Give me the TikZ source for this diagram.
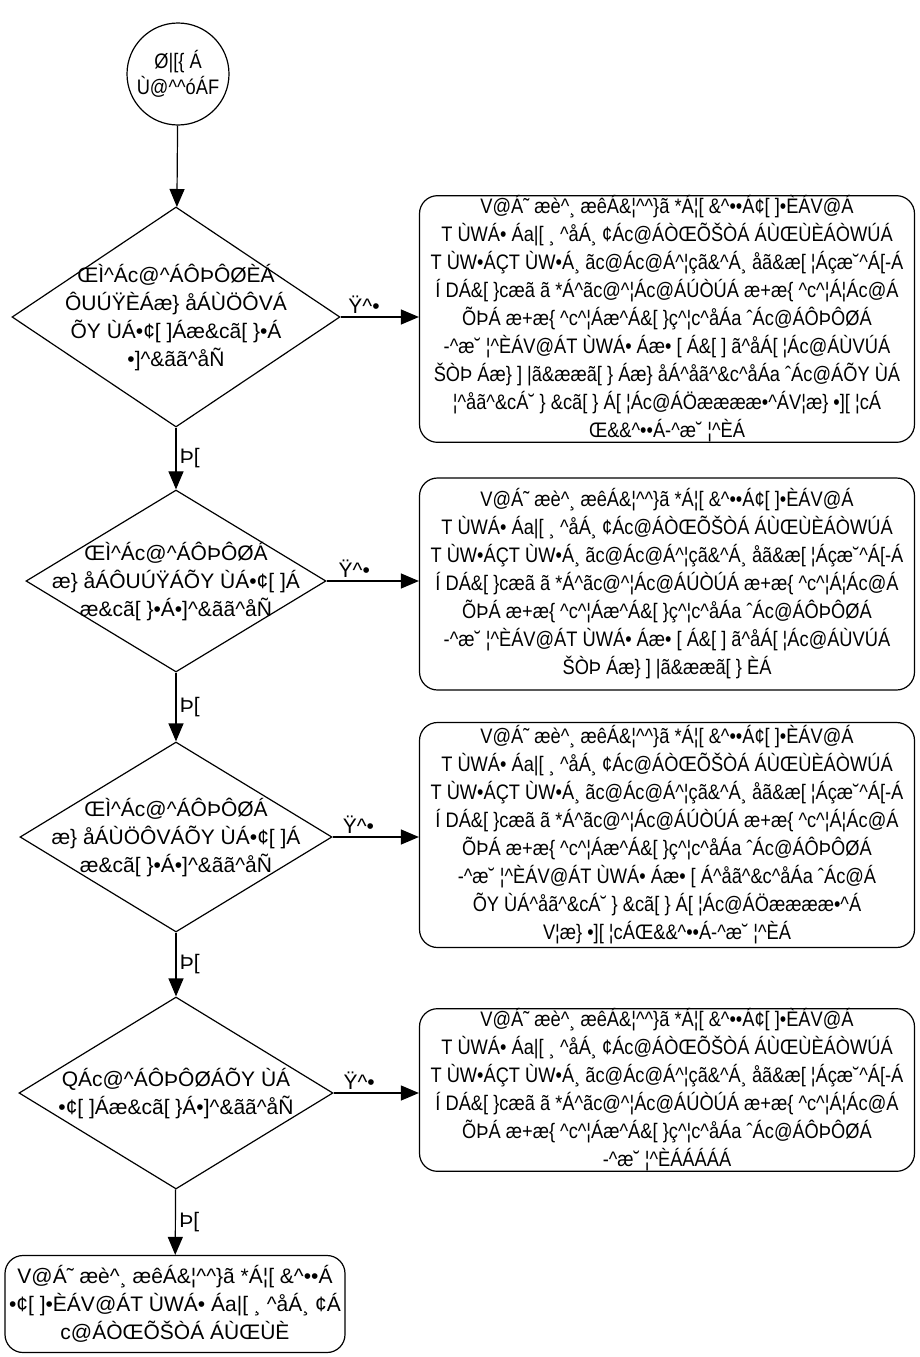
\documentclass[tikz,border=0pt]{standalone}
\usepackage{fontspec}
\setmainfont{Liberation Sans}
\newfontfamily\boxfont{Liberation Sans}[FakeStretch=0.87]
\usetikzlibrary{shapes.geometric,arrows.meta}

\newcommand{\crt}{\textasciicircum}
% first lines shared by the four boxes on the right
\newcommand{\boxlines}{V@Á˜ æè\crt{}¸ æêÁ\&¦\crt{}\crt{}\}ã *Á¦[ \&\crt{}••Á¢[ ]•ÈÁV@Á\\
T ÙWÁ• Áa|[ ¸ \crt{}åÁ¸ ¢Ác@ÁÒŒÕŠÒÁ ÁÙŒÙÈÁÒWÚÁ\\
T ÙW•ÁÇT ÙW•Á¸ ãc@Ác@Á\crt{}¦çã\&\crt{}Á¸ åã\&æ[ ¦Áçæ˘\crt{}Á[-Á\\
Í DÁ\&[ \}cæã ã *Á\crt{}ãc@\crt{}¦Ác@ÁÚÒÚÁ æ+æ\{ \crt{}c\crt{}¦Á¦Ác@Á\\
ÕÞÁ æ+æ\{ \crt{}c\crt{}¦Áæ\crt{}Á\&[ \}ç\crt{}¦c\crt{}åÁa ˆÁc@ÁÔÞÔØÁ}

\begin{document}
\begin{tikzpicture}[x=1pt, y=-1pt,
    every node/.style={font=\fontsize{21}{28}\selectfont},
    startstop/.style={circle, draw, line width=1.2pt, minimum size=102pt, inner sep=0pt, align=center, font=\fontsize{21}{26}\boxfont},
    decision/.style={diamond, draw, line width=1.2pt, inner sep=0pt},
    textbox/.style={rectangle, draw, rounded corners=18pt, line width=1.2pt, align=center, inner sep=0pt},
    answer/.style={textbox, minimum width=495pt, font=\fontsize{21}{28}\boxfont},
    arr/.style={-{Triangle[width=15pt,length=18pt]}, line width=1.2pt}]
    \useasboundingbox (0,0) rectangle (920,1357);

    % Start
    \node[startstop] (start) at (178,74) {Ø|[\{ Á\\Ù@\crt{}\crt{}óÁF};

    % Questions
    \node[decision, minimum width=328pt, minimum height=220pt] (d1) at (176,317) {};
    \node[align=center] (d1t) at (d1) {ŒÌ\crt{}Ác@\crt{}ÁÔÞÔØÈÁ\\ÔUÚŸÈÁæ\} åÁÙÖÔVÁ\\ÕY ÙÁ•¢[ ]Áæ\&cã[ \}•Á\\•]\crt{}\&ãã\crt{}åÑ};

    \node[decision, minimum width=300pt, minimum height=182pt] (d2) at (176,581) {};
    \node[align=center] (d2t) at (d2) {ŒÌ\crt{}Ác@\crt{}ÁÔÞÔØÁ\\æ\} åÁÔUÚŸÁÕY ÙÁ•¢[ ]Á\\æ\&cã[ \}•Á•]\crt{}\&ãã\crt{}åÑ};

    \node[decision, minimum width=312pt, minimum height=190pt] (d3) at (176,837) {};
    \node[align=center] (d3t) at (d3) {ŒÌ\crt{}Ác@\crt{}ÁÔÞÔØÁ\\æ\} åÁÙÖÔVÁÕY ÙÁ•¢[ ]Á\\æ\&cã[ \}•Á•]\crt{}\&ãã\crt{}åÑ};

    \node[decision, minimum width=314pt, minimum height=192pt] (d4) at (176,1093) {};
    \node[align=center] (d4t) at (d4) {QÁc@\crt{}ÁÔÞÔØÁÕY ÙÁ\\•¢[ ]Áæ\&cã[ \}Á•]\crt{}\&ãã\crt{}åÑ};

    % Answers
    \node[answer, minimum height=242pt] (b1) at (667,319) {\boxlines\\
        -\crt{}æ˘ ¦\crt{}ÈÁV@ÁT ÙWÁ• Áæ• [ Á\&[ ] ã\crt{}åÁ[ ¦Ác@ÁÙVÚÁ\\
        ŠÒÞ Áæ\} ] |ã\&ææã[ \} Áæ\} åÁ\crt{}åã\crt{}\&c\crt{}åÁa ˆÁc@ÁÕY ÙÁ\\
        ¦\crt{}åã\crt{}\&cÁ˘ \} \&cã[ \} Á[ ¦Ác@ÁÖææææ•\crt{}ÁV¦æ\} •][ ¦cÁ\\
        Œ\&\&\crt{}••Á-\crt{}æ˘ ¦\crt{}ÈÁ};
    \node[answer, minimum height=212pt] (b2) at (667,584) {\boxlines\\
        -\crt{}æ˘ ¦\crt{}ÈÁV@ÁT ÙWÁ• Áæ• [ Á\&[ ] ã\crt{}åÁ[ ¦Ác@ÁÙVÚÁ\\
        ŠÒÞ Áæ\} ] |ã\&ææã[ \} ÈÁ};
    \node[answer, minimum height=225pt] (b3) at (667,835) {\boxlines\\
        -\crt{}æ˘ ¦\crt{}ÈÁV@ÁT ÙWÁ• Áæ• [ Á\crt{}åã\crt{}\&c\crt{}åÁa ˆÁc@Á\\
        ÕY ÙÁ\crt{}åã\crt{}\&cÁ˘ \} \&cã[ \} Á[ ¦Ác@ÁÖææææ•\crt{}Á\\
        V¦æ\} •][ ¦cÁŒ\&\&\crt{}••Á-\crt{}æ˘ ¦\crt{}ÈÁ};
    \node[answer, minimum height=160pt] (b4) at (667,1090) {\boxlines\\
        -\crt{}æ˘ ¦\crt{}ÈÁÁÁÁÁ};

    % End
    \node[textbox, minimum width=340pt, minimum height=97pt] (end) at (175,1304) {V@Á˜ æè\crt{}¸ æêÁ\&¦\crt{}\crt{}\}ã *Á¦[ \&\crt{}••Á\\
        •¢[ ]•ÈÁV@ÁT ÙWÁ• Áa|[ ¸ \crt{}åÁ¸ ¢Á\\
        c@ÁÒŒÕŠÒÁ ÁÙŒÙÈ};

    % Connectors
    \draw[arr] (start) -- (d1);
    \draw[arr] (d1) -- node[right] {Þ[} (d2);
    \draw[arr] (d2) -- node[right] {Þ[} (d3);
    \draw[arr] (d3) -- node[right] {Þ[} (d4);
    \draw[arr] (d4) -- node[right] {Þ[} (end);
    \draw[arr] (d1.east) -- node[above, pos=0.3] {Ÿ\crt{}•} (d1.east -| b1.west);
    \draw[arr] (d2.east) -- node[above, pos=0.3] {Ÿ\crt{}•} (d2.east -| b2.west);
    \draw[arr] (d3.east) -- node[above, pos=0.3] {Ÿ\crt{}•} (d3.east -| b3.west);
    \draw[arr] (d4.east) -- node[above, pos=0.3] {Ÿ\crt{}•} (d4.east -| b4.west);
\end{tikzpicture}
\end{document}
